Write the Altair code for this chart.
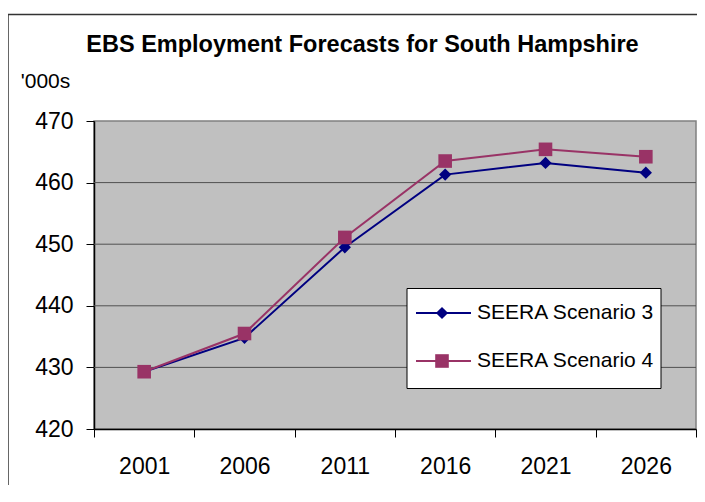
import altair as alt
import pandas as pd

years = ["2001", "2006", "2011", "2016", "2021", "2026"]
series = ["SEERA Scenario 3", "SEERA Scenario 4"]
scenario3 = [429.3, 434.8, 449.5, 461.3, 463.2, 461.6]
scenario4 = [429.3, 435.5, 451.1, 463.5, 465.4, 464.2]
y_ticks = [420, 430, 440, 450, 460, 470]
grid_vals = [430, 440, 450, 460]
colors = ["#000080", "#993366"]
shapes = ["diamond", "square"]
sizes = [150, 185]
title_text = "EBS Employment Forecasts for South Hampshire"
unit_text = "'000s"

rows = []
for s, vals in zip(series, [scenario3, scenario4]):
    for yr, v in zip(years, vals):
        rows.append({"year": yr, "value": v, "series": s})
df = pd.DataFrame(rows)
leg_df = pd.DataFrame({"series": series})
one = pd.DataFrame({"a": [0]})
grid_df = pd.DataFrame({"v": grid_vals})

FONT = "Liberation Sans"
yscale = alt.Scale(domain=[420, 470], nice=False, zero=False)

xenc = alt.X(
    "year:N", sort=years, bandPosition=0.5,
    scale=alt.Scale(type="band", domain=years, paddingInner=0, paddingOuter=0),
    axis=alt.Axis(title=None, labelAngle=0, tickBand="extent", labelFontSize=23,
                  labelFont=FONT, labelColor="black", tickColor="black", tickSize=8,
                  domainColor="black", domainWidth=1.5, labelPadding=18, grid=False),
)
yaxis = alt.Axis(values=y_ticks, title=None, labelFontSize=23, labelFont=FONT,
                 labelColor="black", tickColor="black", tickSize=8,
                 domainColor="black", domainWidth=1.5, labelPadding=13, grid=False)

colorenc = alt.Color("series:N", scale=alt.Scale(domain=series, range=colors), legend=None)
shapeenc = alt.Shape("series:N", scale=alt.Scale(domain=series, range=shapes), legend=None)
sizeenc = alt.Size("series:N", scale=alt.Scale(domain=series, range=sizes), legend=None)

grid = alt.Chart(grid_df).mark_rule(color="#505050", strokeWidth=1).encode(
    y=alt.Y("v:Q", scale=yscale, axis=None)
)
lines = alt.Chart(df).mark_line(strokeWidth=2).encode(
    x=xenc, y=alt.Y("value:Q", scale=yscale, axis=yaxis), color=colorenc
)
points = alt.Chart(df).mark_point(filled=True, opacity=1).encode(
    x=xenc, y=alt.Y("value:Q", scale=yscale, axis=None),
    color=colorenc, shape=shapeenc, size=sizeenc
)

leg_y = alt.Y("series:N", scale=alt.Scale(type="point", domain=series, range=[192, 240], padding=0), axis=None)
box = alt.Chart(one).mark_rect(fill="white", stroke="black", strokeWidth=1).encode(
    x=alt.value(313), x2=alt.value(567), y=alt.value(167.5), y2=alt.value(267.5)
)
leg_lines = alt.Chart(leg_df).mark_rule(strokeWidth=2).encode(
    x=alt.value(322), x2=alt.value(377), y=leg_y, color=colorenc
)
leg_points = alt.Chart(leg_df).mark_point(filled=True, opacity=1).encode(
    x=alt.value(348), y=leg_y, color=colorenc, shape=shapeenc, size=sizeenc
)
leg_text = alt.Chart(leg_df).mark_text(align="left", baseline="middle", fontSize=21,
                                        font=FONT, color="black").encode(
    x=alt.value(383), y=leg_y, text="series:N"
)

title = alt.Chart(one).mark_text(align="center", baseline="alphabetic", fontSize=23.5,
                                 font=FONT, fontWeight="bold", color="black").encode(
    x=alt.value(268.5), y=alt.value(-69.3), text=alt.value(title_text)
)
unit = alt.Chart(one).mark_text(align="left", baseline="alphabetic", fontSize=21,
                                font=FONT, color="black").encode(
    x=alt.value(-73.3), y=alt.value(-33), text=alt.value(unit_text)
)
frame_left = alt.Chart(one).mark_rule(color="#333333", strokeWidth=1.5).encode(
    x=alt.value(-86), y=alt.value(-106.5), y2=alt.value(380)
)
frame_top = alt.Chart(one).mark_rule(color="#333333", strokeWidth=1.5).encode(
    x=alt.value(-86), x2=alt.value(620), y=alt.value(-106.5)
)

chart = alt.layer(
    grid, lines, points, box, leg_lines, leg_points, leg_text, title, unit, frame_left, frame_top
).resolve_scale(y="independent").properties(
    width=602, height=308,
    autosize=alt.AutoSizeParams(type="none"),
    padding={"left": 86, "top": 113, "right": 1, "bottom": 56},
    background="white",
).configure_view(fill="#C0C0C0", stroke="#808080", strokeWidth=1.5)

chart.save("out.html", embed_options={"renderer": "svg", "actions": False})
